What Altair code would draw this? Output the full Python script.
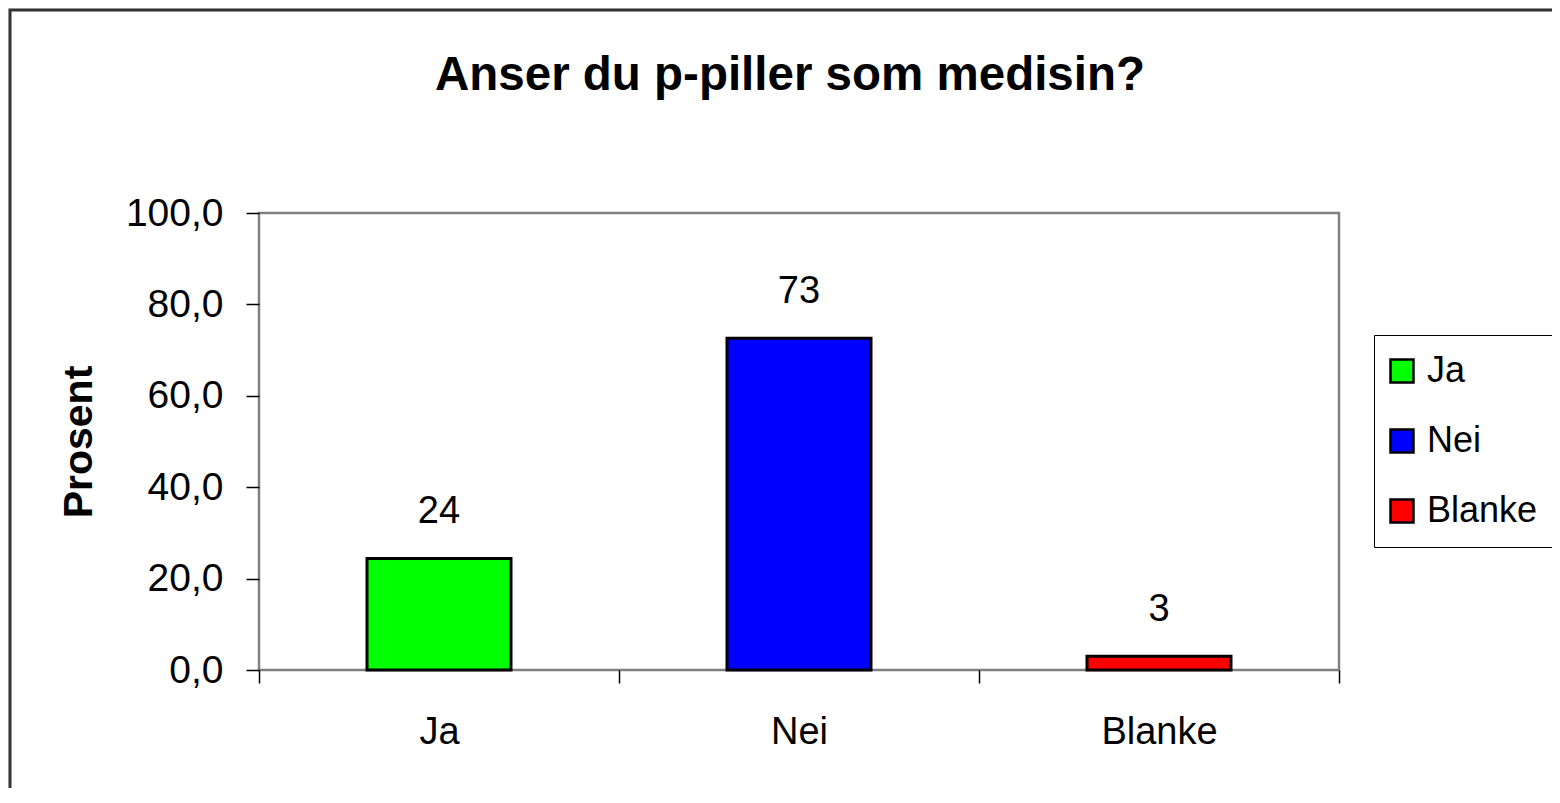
import altair as alt
import pandas as pd

title_text = ["Anser du p-piller som medisin?"]
categories = ["Ja", "Nei", "Blanke"]
values = [24.4, 72.6, 3.0]
labels = ["24", "73", "3"]
colors = ["#00FF00", "#0000FF", "#FF0000"]
y_ticks = [0, 20, 40, 60, 80, 100]

df = pd.DataFrame({"kategori": categories, "prosent": values, "etikett": labels})
one = pd.DataFrame({"a": [0]})
tdf = pd.DataFrame({"tittel": title_text})

FONT = "Liberation Sans"
W, H = 1080, 457

x_enc = alt.X(
    "kategori:N",
    sort=categories,
    scale=alt.Scale(paddingInner=0, paddingOuter=0),
    axis=alt.Axis(
        title=None, labelAngle=0, labelFontSize=38, labelFont=FONT, labelColor="black",
        labelPadding=30, tickSize=13, tickColor="black", tickWidth=1.5, tickBand="extent",
        domain=False, grid=False, zindex=1,
    ),
)
y_enc = alt.Y(
    "prosent:Q",
    scale=alt.Scale(domain=[0, 100], nice=False),
    axis=alt.Axis(
        title="Prosent", titleFontSize=41, titleFont=FONT, titleFontWeight="bold",
        titleColor="black", titlePadding=25, values=y_ticks,
        labelExpr="replace(format(datum.value, '.1f'), '.', ',')",
        labelFontSize=39, labelFont=FONT, labelColor="black", labelPadding=23,
        tickSize=13, tickColor="black", tickWidth=1.5, domain=False, grid=False, zindex=1,
    ),
)

panel = alt.Chart(one).mark_rect(fill="white", stroke="#333333", strokeWidth=3).encode(
    x=alt.value(-249), x2=alt.value(1500), y=alt.value(-203), y2=alt.value(800)
)
frame = alt.Chart(one).mark_rect(fill=None, stroke="#808080", strokeWidth=2.5).encode(
    x=alt.value(0), x2=alt.value(W), y=alt.value(0), y2=alt.value(H)
)

title = alt.Chart(tdf).mark_text(
    fontSize=47.5, font=FONT, fontWeight="bold", color="black",
    align="center", baseline="alphabetic",
).encode(x=alt.value(531), y=alt.value(-123), text="tittel:N")

bars = alt.Chart(df).mark_bar(width={"band": 0.4}, stroke="black", strokeWidth=3).encode(
    x=x_enc,
    y=y_enc,
    color=alt.Color(
        "kategori:N",
        sort=categories,
        scale=alt.Scale(domain=categories, range=colors),
        legend=alt.Legend(
            title=None, orient="none", legendX=1115, legendY=122,
            symbolType="square", symbolSize=529, symbolStrokeColor="black",
            symbolStrokeWidth=2.5, symbolOpacity=1, symbolOffset=-8,
            labelFontSize=36, labelFont=FONT, labelColor="black", labelOffset=7,
            rowPadding=34, padding=18, fillColor="white", strokeColor="black",
        ),
    ),
)

text = alt.Chart(df).mark_text(
    fontSize=38, font=FONT, color="black", baseline="alphabetic", dy=-35
).encode(x=alt.X("kategori:N", sort=categories), y="prosent:Q", text="etikett:N")

chart = alt.layer(panel, frame, bars, text, title).properties(
    width=W,
    height=H,
    autosize=alt.AutoSizeParams(type="none"),
    padding={"left": 251, "top": 205, "right": 213, "bottom": 118},
    background="#F9F5EE",
).configure_view(stroke=None)

chart.save("out.html", embed_options={"renderer": "svg", "actions": False})
